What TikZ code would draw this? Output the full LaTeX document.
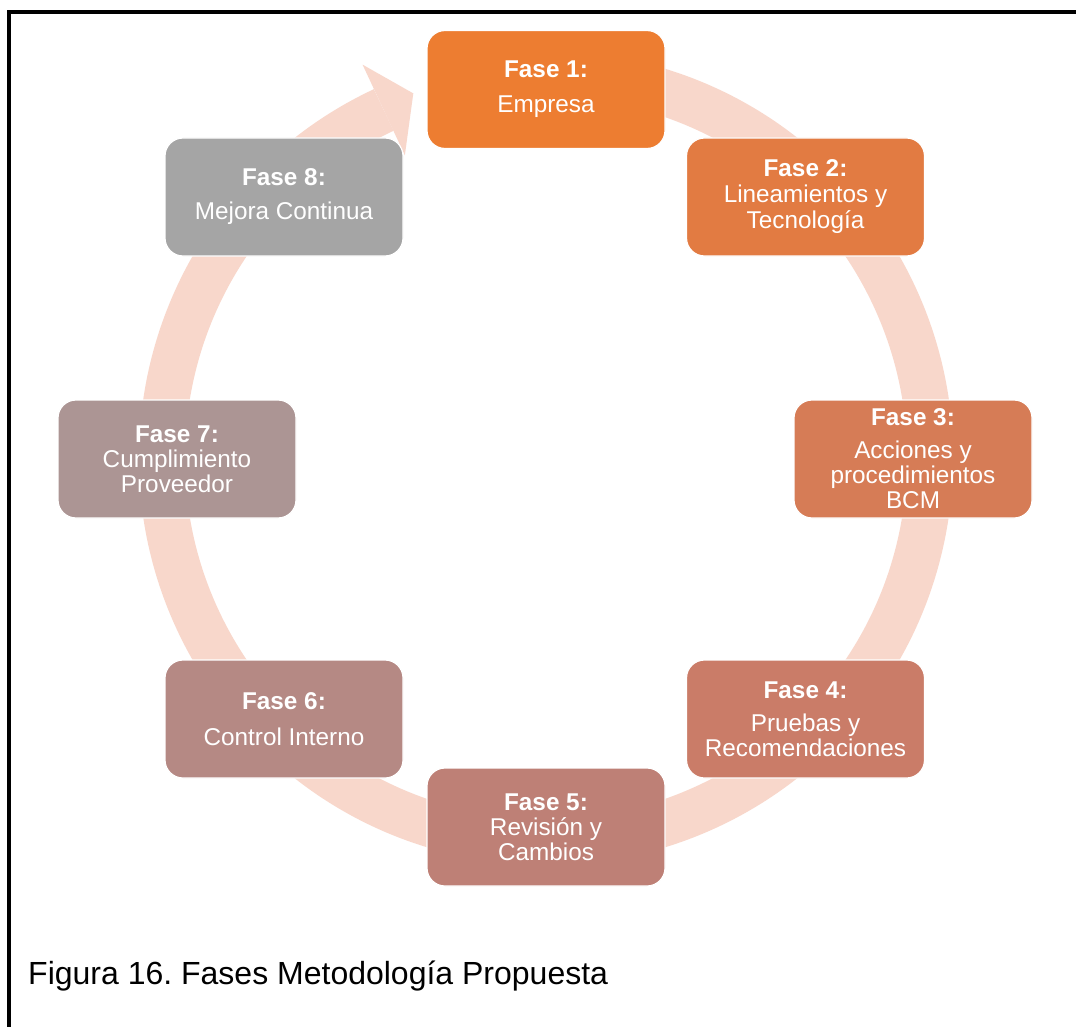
\documentclass[tikz,border=0pt]{standalone}
\usepackage{fontspec}
\setmainfont{Liberation Sans}
\frenchspacing
\definecolor{ringpink}{RGB}{248,215,203}
\definecolor{cA}{RGB}{237,125,49}
\definecolor{cB}{RGB}{226,123,66}
\definecolor{cC}{RGB}{214,124,86}
\definecolor{cD}{RGB}{202,124,104}
\definecolor{cE}{RGB}{190,128,118}
\definecolor{cF}{RGB}{181,137,132}
\definecolor{cG}{RGB}{172,149,148}
\definecolor{cH}{RGB}{165,165,165}
\begin{document}
\begin{tikzpicture}[x=1pt,y=1pt,
  phase/.style={rectangle, rounded corners=18pt, minimum width=238pt,
    minimum height=118pt, draw=white, line width=1.2pt, text=white,
    align=center, inner sep=0pt, font=\fontsize{24.3}{25}\selectfont},
  ringband/.style={draw=ringpink, line width=46pt},
  framestyle/.style={draw=black, line width=4pt}]
\useasboundingbox (0,0) rectangle (1076,-1027);
\fill[white] (0,0) rectangle (1076,-1027);

% circular arrow behind the phases
\begin{scope}[shift={(546pt,-458pt)}]
  \draw[ringband] (80:384pt) arc[start angle=80, end angle=-245, radius=384pt];
  \fill[ringpink] (115:434pt) -- (110:388pt) -- (115:334pt) -- cycle;
\end{scope}

% phases
\node[phase, fill=cA] (f1) at (546,-89.5) {\textbf{Fase 1:}\\[10pt]Empresa};
\node[phase, fill=cB] (f2) at (805.5,-197) {\textbf{Fase 2:}\\[1pt]Lineamientos y\\[1pt]Tecnología};
\node[phase, fill=cC] (f3) at (913,-459) {\textbf{Fase 3:}\\[8pt]Acciones y\\procedimientos\\BCM};
\node[phase, fill=cD] (f4) at (805.5,-719) {\textbf{Fase 4:}\\[8pt]Pruebas y\\Recomendaciones};
\node[phase, fill=cE] (f5) at (546,-827) {\textbf{Fase 5:}\\Revisión y\\Cambios};
\node[phase, fill=cF] (f6) at (284,-719) {\textbf{Fase 6:}\\[11pt]Control Interno};
\node[phase, fill=cG] (f7) at (177,-459) {\textbf{Fase 7:}\\Cumplimiento\\Proveedor};
\node[phase, fill=cH] (f8) at (284,-197) {\textbf{Fase 8:}\\[9pt]Mejora Continua};

% caption
\node[anchor=base west, inner sep=0pt, font=\fontsize{32}{36}\selectfont] (cap)
  at (28,-984) {Figura 16. Fases Metodología Propuesta};

% frame lines
\draw[framestyle] (9,-1030) -- (9,-12) -- (1080,-12);
\end{tikzpicture}
\end{document}
